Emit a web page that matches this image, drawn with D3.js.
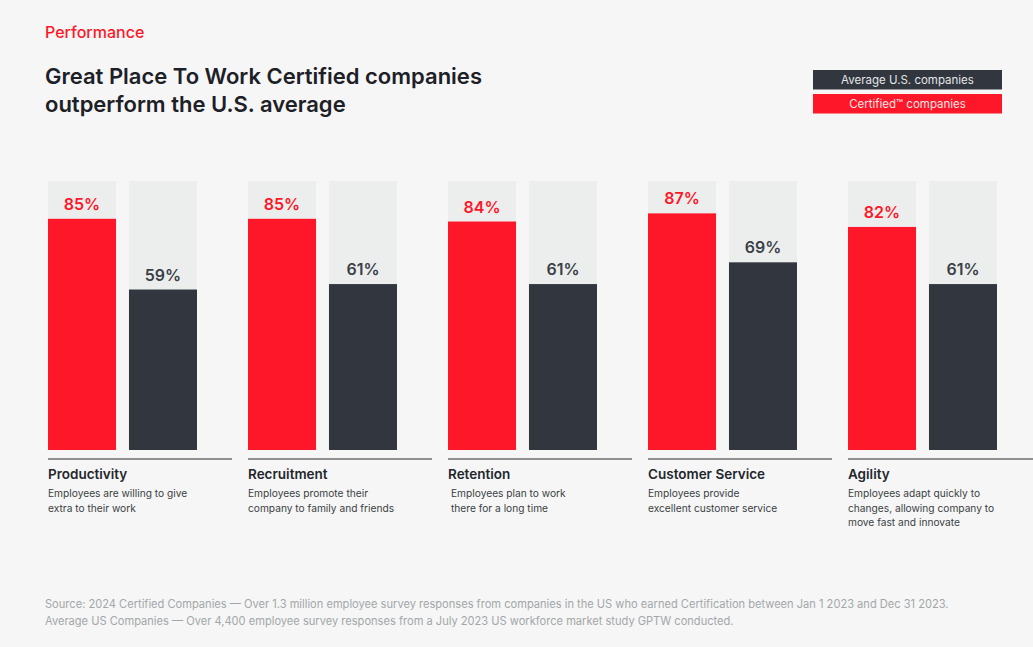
<!DOCTYPE html>
<html>
<head>
<meta charset="utf-8">
<script src="https://cdn.jsdelivr.net/npm/d3@7"></script>
<style>
  body { margin: 0; background: #f5f6f5; }
  svg { display: block; font-family: "Inter", "Noto Sans", sans-serif; }
</style>
</head>
<body>
<script>
// categories and values
var categories = ["Productivity", "Recruitment", "Retention", "Customer Service", "Agility"];
var certified = [85, 85, 84, 87, 82];
var average = [59, 61, 61, 69, 61];
var descriptions = [
    ["Employees are willing to give", "extra to their work"],
    ["Employees promote their", "company to family and friends"],
    ["Employees plan to work", "there for a long time"],
    ["Employees provide", "excellent customer service"],
    ["Employees adapt quickly to", "changes, allowing company to", "move fast and innovate"]
];
var seriesNames = ["Average U.S. companies", "Certified\u2122 companies"];
var footnotes = [
    "Source: 2024 Certified Companies \u2014 Over 1.3 million employee survey responses from companies in the US who earned Certification between Jan 1 2023 and Dec 31 2023.",
    "Average US Companies \u2014 Over 4,400 employee survey responses from a July 2023 US workforce market study GPTW conducted."
];

var width = 1033, height = 647;
var red = "#fd1729", dark = "#31363f", track = "#eceeed";

var svg = d3.select("body").append("svg")
    .attr("width", width)
    .attr("height", height);

svg.append("rect").attr("width", width).attr("height", height).attr("fill", "#f5f6f5");

//Header
svg.append("text")
    .attr("x", 45).attr("y", 38)
    .attr("fill", red)
    .attr("font-size", 16).attr("font-weight", 500)
    .text("Performance");

svg.append("text")
    .attr("x", 45).attr("y", 84)
    .attr("fill", "#1d2027")
    .attr("font-size", 22).attr("font-weight", 600)
    .text("Great Place To Work Certified companies");
svg.append("text")
    .attr("x", 45).attr("y", 112)
    .attr("fill", "#1d2027")
    .attr("font-size", 22).attr("font-weight", 600)
    .text("outperform the U.S. average");

//Legend
var legend = svg.append("g").attr("transform", "translate(813,70)");
[dark, red].forEach(function(c, i) {
    legend.append("rect")
        .attr("x", 0).attr("y", i * 24)
        .attr("width", 189).attr("height", 19.5)
        .attr("fill", c);
    legend.append("text")
        .attr("x", 94.5).attr("y", i * 24 + 14)
        .attr("text-anchor", "middle")
        .attr("fill", i == 0 ? "#e4e6e8" : "#ffe3e5")
        .attr("font-size", 11.5)
        .text(seriesNames[i]);
});

//Scales
var xGroup = d3.scaleBand()
    .domain(categories)
    .range([48, 1048])
    .paddingInner(0)
    .paddingOuter(0);

var xSub = d3.scaleBand()
    .domain(["certified", "average"])
    .range([0, 149])
    .paddingInner(0.16);

var yScale = d3.scaleLinear().domain([0, 100]).range([450, 178]);

var groups = svg.selectAll(".group")
    .data(categories)
    .enter()
    .append("g")
    .attr("class", "group")
    .attr("transform", function(d) { return "translate(" + xGroup(d) + ",0)"; });

var bars = groups.selectAll(".bar")
    .data(function(d, i) {
        return [
            {key: "certified", value: certified[i], color: red, label: red},
            {key: "average", value: average[i], color: dark, label: "#3a3f47"}
        ];
    })
    .enter()
    .append("g");

//background track
bars.append("rect")
    .attr("x", function(d) { return xSub(d.key); })
    .attr("y", 181)
    .attr("width", xSub.bandwidth())
    .attr("height", 450 - 181)
    .attr("fill", track);

bars.append("rect")
    .attr("x", function(d) { return xSub(d.key); })
    .attr("y", function(d) { return yScale(d.value); })
    .attr("width", xSub.bandwidth())
    .attr("height", function(d) { return yScale(0) - yScale(d.value); })
    .attr("fill", function(d) { return d.color; });

bars.append("text")
    .attr("x", function(d) { return xSub(d.key) + xSub.bandwidth() / 2; })
    .attr("y", function(d) { return yScale(d.value) - 9; })
    .attr("text-anchor", "middle")
    .attr("fill", function(d) { return d.label; })
    .attr("font-size", 16).attr("font-weight", 600)
    .text(function(d) { return d.value + "%"; });

//separator lines
groups.append("line")
    .attr("x1", 0)
    .attr("x2", function(d, i) { return i == categories.length - 1 ? width : 184; })
    .attr("y1", 459).attr("y2", 459)
    .attr("stroke", "#6b6e73")
    .attr("stroke-width", 1.5);

groups.append("text")
    .attr("x", 0).attr("y", 479)
    .attr("fill", "#23262c")
    .attr("font-size", 13.5).attr("font-weight", 600)
    .text(function(d) { return d; });

groups.each(function(d, i) {
    var g = d3.select(this);
    descriptions[i].forEach(function(line, j) {
        g.append("text")
            .attr("x", i == 2 ? 3 : 0)
            .attr("y", 497 + j * 14.5)
            .attr("fill", "#3b3e44")
            .attr("font-size", 10.2)
            .text(line);
    });
});

//Footnotes
footnotes.forEach(function(t, i) {
    svg.append("text")
        .attr("x", 45).attr("y", 608 + i * 17)
        .attr("fill", "#a3a7aa")
        .attr("font-size", 11.1)
        .text(t);
});
</script>
</body>
</html>
